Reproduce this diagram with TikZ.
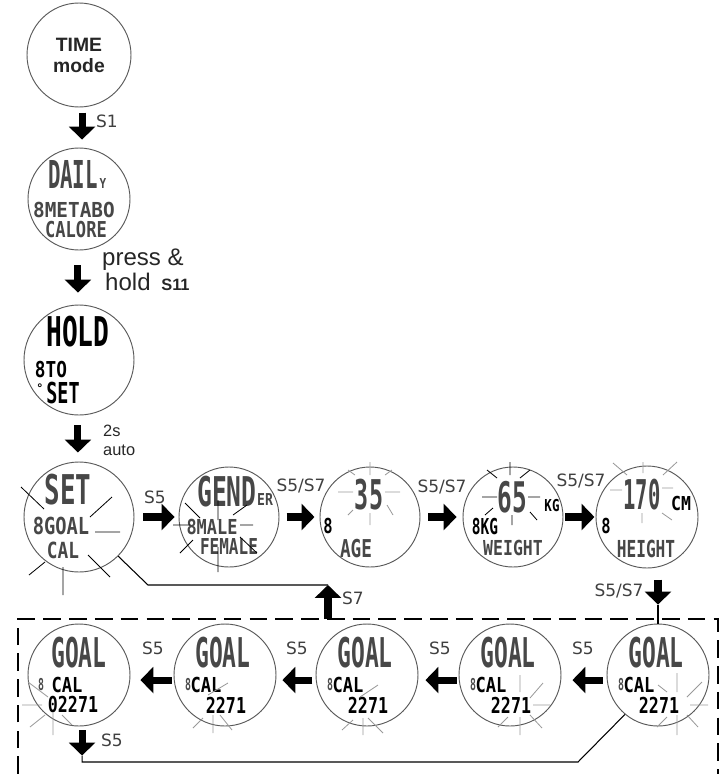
\documentclass[tikz,border=0pt]{standalone}
\usepackage{fontspec}
\setmainfont{Liberation Sans}
\newfontfamily\keyfont{DejaVu Sans}
\newfontfamily\lcdfont{DejaVu Sans Mono}
\usetikzlibrary{arrows.meta}
\definecolor{RimGray}{gray}{0.35}
\definecolor{RayGray}{gray}{0.6}
\definecolor{SegGray}{gray}{0.28}
\definecolor{KeyGray}{gray}{0.25}
\newcommand{\lcd}[3]{\fontsize{#1}{#1}\selectfont\scalebox{#2}[1]{#3}}

\begin{document}
\begin{tikzpicture}[x=0.03cm,y=-0.03cm,
    display/.style={circle,draw=RimGray,line width=0.8pt,minimum size=#1,inner sep=0pt},
    seg/.style={font=\lcdfont\bfseries,text=SegGray,inner sep=0pt},
    segk/.style={seg,text=black},
    key/.style={font=\keyfont\fontsize{14.5}{14.5}\selectfont,text=KeyGray,inner sep=0pt},
    note/.style={font=\fontsize{20.5}{24}\selectfont,text=black!85,inner sep=0pt,anchor=base west},
    blk/.style={line width=6pt,-{Triangle[width=22pt,length=11pt]}},
    wire/.style={line width=0.9pt},
    flash/.style={draw=RayGray,line width=0.7pt},
    flashk/.style={draw=black,line width=0.7pt}]
  \useasboundingbox (0,0) rectangle (724,774);

  % displays
  \node[display=3.12cm,font=\bfseries\fontsize{16.5}{18}\selectfont,align=center,text=black!85]
    (time) at (79,55) {TIME\\mode};
  \node[display=3.06cm] (daily) at (79,199) {};
  \node[display=3.3cm] (hold) at (79,360) {};
  \node[display=3.3cm] (set) at (79,517) {};
  \node[display=3.0cm] (gender) at (229,517) {};
  \node[display=3.0cm] (age) at (370,517) {};
  \node[display=3.0cm] (weight) at (513,517) {};
  \node[display=3.06cm] (height) at (647,517) {};
  \node[display=3.06cm] (goalA) at (79,675) {};

  \node[seg] (daily-t) at (73,174) {\lcd{32.8}{.54}{DAIL}};
  \node[seg] (daily-y) at (103,183) {\lcd{11.7}{.8}{Y}};
  \node[seg] (daily-m) at (74,210) {\lcd{17.6}{.94}{8METABO}};
  \node[seg] (daily-c) at (76,230) {\lcd{18.7}{.78}{CALORE}};

  \node[segk] (hold-t) at (78,332) {\lcd{35}{.64}{HOLD}};
  \node[segk] (hold-o) at (51,370) {\lcd{18.7}{.81}{8TO}};
  \node[segk] (hold-d) at (40,388) {\lcd{10}{1}{°}};
  \node[segk] (hold-s) at (63,393) {\lcd{24.6}{.64}{SET}};

  \node[seg] (set-t) at (68,490) {\lcd{35}{.63}{SET}};
  \node[seg] (set-g) at (61,526) {\lcd{20}{.8}{8GOAL}};
  \node[seg] (set-c) at (63,550) {\lcd{19}{.8}{CAL}};

  \node[seg] (gender-t) at (227,492) {\lcd{35}{.6}{GEND}};
  \node[seg] (gender-e) at (265,500) {\lcd{14}{.8}{ER}};
  \node[seg] (gender-m) at (212,527) {\lcd{17.6}{.82}{8MALE}};
  \node[seg] (gender-f) at (229,547) {\lcd{18.7}{.73}{FEMALE}};

  \node[seg] (age-v) at (369,495) {\lcd{35}{.57}{35}};
  \node[segk] (age-i) at (328,526) {\lcd{17.6}{.75}{8}};
  \node[seg] (age-t) at (356,549) {\lcd{21}{.72}{AGE}};

  \node[seg] (weight-v) at (512,497) {\lcd{36}{.58}{65}};
  \node[segk] (weight-u) at (552,506) {\lcd{14}{.76}{KG}};
  \node[segk] (weight-i) at (485,527) {\lcd{18.7}{.66}{8KG}};
  \node[seg] (weight-t) at (513,548) {\lcd{17.6}{.8}{WEIGHT}};

  \node[seg] (height-v) at (642,495) {\lcd{35}{.5}{170}};
  \node[segk] (height-u) at (681,503) {\lcd{16.4}{.86}{CM}};
  \node[segk] (height-i) at (606,526) {\lcd{17.6}{.75}{8}};
  \node[seg] (height-t) at (646,549) {\lcd{20}{.69}{HEIGHT}};

  \node[seg] (goalA-t) at (79,653) {\lcd{35}{.56}{GOAL}};
  \node[seg,text=black!70] (goalA-i) at (41,685) {\lcd{14}{.6}{8}};
  \node[segk] (goalA-c) at (67,685) {\lcd{17.6}{.83}{CAL}};
  \node[segk] (goalA-v) at (73,705) {\lcd{18.7}{.76}{02271}};
  \foreach \n/\cx in {B/225,C/367,D/510,E/658}{
    \node[display=3.06cm] (goal\n) at (\cx,675) {};
    \node[seg] (goal\n-t) at (\cx-2,653) {\lcd{35}{.56}{GOAL}};
    \node[seg,text=black!70] (goal\n-i) at (\cx-37,685) {\lcd{14}{.6}{8}};
    \node[segk] (goal\n-c) at (\cx-19,685) {\lcd{17.6}{.83}{CAL}};
    \node[segk] (goal\n-v) at (\cx+1,705) {\lcd{18.7}{.76}{2271}};
  }

  % blinking marks
  \draw[flashk] (21,487) -- (44,509) (90,517) -- (112,497) (95,532) -- (120,532)
    (29,575) -- (45,562) (63,567) -- (63,595) (88,555) -- (110,577);
  \draw[flashk] (173,525) -- (190,525) (185,503) -- (200,518) (218,500) -- (218,520)
    (218,547) -- (218,572) (233,515) -- (247,505) (240,525) -- (253,525)
    (180,553) -- (193,540) (240,537) -- (257,553);
  \draw[flash] (338,492) -- (353,492) (385,492) -- (400,492) (370,462) -- (370,475)
    (370,513) -- (370,525) (348,470) -- (355,475) (385,475) -- (392,470)
    (348,515) -- (353,510) (387,505) -- (393,515);
  \draw[flashk] (482,497) -- (497,497) (528,497) -- (540,497) (510,462) -- (510,475)
    (512,515) -- (512,525) (487,470) -- (497,478) (520,478) -- (530,470)
    (485,515) -- (493,508) (530,512) -- (537,520);
  \draw[flash] (613,463) -- (627,475) (663,475) -- (677,462) (643,462) -- (643,473)
    (610,490) -- (622,490) (662,488) -- (673,488) (642,513) -- (642,523)
    (662,513) -- (672,520);
  \draw[flash] (22,705) -- (42,705) (30,727) -- (45,715) (53,713) -- (53,735)
    (28,682) -- (48,697) (62,715) -- (72,725);
  \draw[flash] (208,695) -- (228,683) (193,728) -- (203,718) (213,715) -- (213,733)
    (220,715) -- (232,730);
  \draw[flash] (360,697) -- (378,685) (342,730) -- (353,720) (363,718) -- (363,735)
    (368,718) -- (383,733);
  \draw[flash] (520,675) -- (520,692) (530,698) -- (543,683) (533,705) -- (550,705)
    (498,727) -- (508,717) (520,717) -- (520,735) (530,715) -- (542,728);
  \draw[flash] (677,673) -- (677,692) (658,685) -- (667,692) (687,697) -- (702,682)
    (690,705) -- (708,705) (657,727) -- (667,717) (677,715) -- (677,735)
    (687,715) -- (698,727);

  % goal loop frame
  \draw[line width=1.3pt,dash pattern=on 15pt off 7pt]
    (18,774) -- (18,619) -- (718,619) -- (718,774);

  % key arrows
  \draw[blk] ([xshift=2.6pt,yshift=-4.3pt]time.south) -- ([xshift=2.6pt,yshift=6.8pt]daily.north);
  \draw[blk] ([xshift=-0.9pt,yshift=-12.8pt]daily.south) -- ([xshift=-0.9pt,yshift=10.2pt]hold.north);
  \draw[blk] ([xshift=-0.9pt,yshift=-8.5pt]hold.south) -- ([xshift=-0.9pt,yshift=7.7pt]set.north);
  \draw[blk] ([xshift=7.7pt]set.east) -- ([xshift=-3.4pt]gender.west);
  \draw[blk] ([xshift=6pt]gender.east) -- ([xshift=-4.3pt]age.west);
  \draw[blk] ([xshift=6.8pt]age.east) -- ([xshift=-5.1pt]weight.west);
  \draw[blk] ([xshift=1.7pt]weight.east) -- ([xshift=-0.9pt]height.west);
  \draw[blk] ([yshift=37.5pt]goalE.north) -- ([yshift=16.2pt]goalE.north);
  \draw[wire] ([yshift=16.2pt]goalE.north) -- (goalE.north);
  \draw[blk] ([xshift=-3.4pt,yshift=-4.3pt]goalE.west) -- ([xshift=9.4pt,yshift=-4.3pt]goalD.east);
  \draw[blk] ([xshift=-1.7pt,yshift=-4.3pt]goalD.west) -- ([xshift=6pt,yshift=-4.3pt]goalC.east);
  \draw[blk] ([xshift=-2.6pt,yshift=-4.3pt]goalC.west) -- ([xshift=5.1pt,yshift=-4.3pt]goalB.east);
  \draw[blk] ([xshift=-1.7pt,yshift=-4.3pt]goalB.west) -- ([xshift=8.5pt,yshift=-4.3pt]goalA.east);
  \draw[blk] ([xshift=2.6pt,yshift=-3.4pt]goalA.south) -- ([xshift=2.6pt,yshift=-24.8pt]goalA.south);
  \coordinate (loopbend) at (578,762);
  \draw[wire] ([xshift=2.6pt,yshift=-24.8pt]goalA.south) |- (loopbend) -- (goalE.-130);
  \coordinate (s7foot) at (328,619);
  \coordinate (s7tip) at (328,585);
  \coordinate (s7bend) at (148,585);
  \draw[blk] (s7foot) -- (s7tip);
  \draw[wire] (s7tip) -- (s7bend) -- (set.-45);

  % key labels
  \node[key] (kS1) at (107,121) {S1};
  \node[note] (kpress) at (102,265) {press \&};
  \node[note] (khold) at (105,290) {hold \,{\bfseries\fontsize{14}{14}\selectfont S11}};
  \node[note,font=\fontsize{14}{14}\selectfont] (k2s) at (103,436) {2s};
  \node[note,font=\fontsize{14}{14}\selectfont] (kauto) at (103,455) {auto};
  \node[key] (kS5a) at (155,497) {S5};
  \node[key] (kS57a) at (301,486) {S5/S7};
  \node[key] (kS57b) at (442,487) {S5/S7};
  \node[key] (kS57c) at (581,481) {S5/S7};
  \node[key] (kS57d) at (619,591) {S5/S7};
  \node[key] (kS7) at (353,598) {S7};
  \node[key] (kS5b) at (583,648) {S5};
  \node[key] (kS5c) at (440,648) {S5};
  \node[key] (kS5d) at (297,648) {S5};
  \node[key] (kS5e) at (153,648) {S5};
  \node[key] (kS5f) at (112,740) {S5};
\end{tikzpicture}
\end{document}
